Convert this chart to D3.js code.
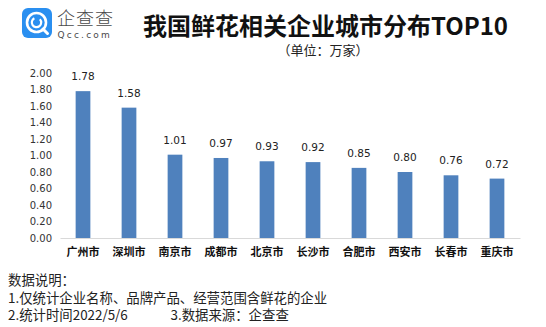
<!DOCTYPE html>
<html>
<head>
<meta charset="utf-8">
<script src="https://cdn.jsdelivr.net/npm/d3@7"></script>
<style>
html,body{margin:0;padding:0;background:#fff;}
svg{display:block;}
</style>
</head>
<body>
<svg id="chart" width="546" height="327"></svg>
<script>
const categories = ["广州市","深圳市","南京市","成都市","北京市","长沙市","合肥市","西安市","长春市","重庆市"];
const values = [1.78,1.58,1.01,0.97,0.93,0.92,0.85,0.80,0.76,0.72];
const valueLabels = ["1.78","1.58","1.01","0.97","0.93","0.92","0.85","0.80","0.76","0.72"];
const yTicks = [0,0.2,0.4,0.6,0.8,1.0,1.2,1.4,1.6,1.8,2.0];
const title = "我国鲜花相关企业城市分布TOP10";
const subtitle = "（单位：万家）";
const notes = ["数据说明：","1.仅统计企业名称、品牌产品、经营范围含鲜花的企业","2.统计时间2022/5/6"];
const note3b = "3.数据来源：企查查";

const svg = d3.select("#chart");
const cjk = "'Noto Sans CJK SC','Noto Sans',sans-serif";

// logo
const logo = svg.append("g");
logo.append("rect").attr("x",22).attr("y",8).attr("width",30).attr("height",30).attr("rx",6).attr("fill","#2a8ff0");
logo.append("circle").attr("cx",36.5).attr("cy",22.5).attr("r",9.5).attr("fill","none").attr("stroke","#fff").attr("stroke-width",2.6);
logo.append("path").attr("d","M43 29 L47.5 33.5").attr("stroke","#fff").attr("stroke-width",3).attr("stroke-linecap","round");
logo.append("path").attr("d", d3.arc()({innerRadius:3.6,outerRadius:5.8,startAngle:Math.PI*0.25,endAngle:Math.PI*1.85})).attr("transform","translate(36.5,22.5)").attr("fill","#fff");
logo.append("text").attr("x",57).attr("y",25).attr("font-family",cjk).attr("font-size",18).attr("font-weight",300).attr("letter-spacing",1).attr("fill","#4a4a4a").text("企查查");
logo.append("text").attr("x",57.5).attr("y",38).attr("font-family","'DejaVu Sans',sans-serif").attr("font-size",9).attr("letter-spacing",2.2).attr("fill","#4a4a4a").text("Qcc.com");

// titles
svg.append("text").attr("x",325.5).attr("y",35).attr("text-anchor","middle").attr("font-family",cjk).attr("font-size",24).attr("font-weight",700).attr("fill","#111").text(title);
svg.append("text").attr("x",323).attr("y",54.5).attr("text-anchor","middle").attr("font-family",cjk).attr("font-size",13).attr("fill","#222").text(subtitle);

// scales
const x = d3.scaleBand().domain(categories).range([60,520]).paddingInner(0.68).paddingOuter(0.34);
const y = d3.scaleLinear().domain([0,2]).range([238,73]);

// y axis labels
const yAxis = svg.append("g").attr("transform","translate(60,0)")
  .call(d3.axisLeft(y).tickValues(yTicks).tickFormat(d3.format(".2f")).tickSize(0).tickPadding(8));
yAxis.select(".domain").remove();
yAxis.selectAll("text").attr("font-family","'DejaVu Sans',sans-serif").attr("font-size",10).attr("fill","#333");

// bars
svg.append("g").selectAll("rect").data(values).join("rect")
  .attr("x",(d,i)=>x(categories[i])).attr("width",x.bandwidth())
  .attr("y",d=>y(d)).attr("height",d=>y(0)-y(d)).attr("fill","#4f81bd");

// value labels
svg.append("g").selectAll("text").data(values).join("text")
  .attr("x",(d,i)=>x(categories[i])+x.bandwidth()/2).attr("y",d=>y(d)-11)
  .attr("text-anchor","middle").attr("font-family","'DejaVu Sans',sans-serif").attr("font-size",10.5).attr("fill","#222")
  .text((d,i)=>valueLabels[i]);

// x axis
const xAxis = svg.append("g").attr("transform","translate(0,238)")
  .call(d3.axisBottom(x).tickSize(0).tickPadding(10));
xAxis.select(".domain").attr("stroke","#d9d9d9").attr("stroke-width",1);
xAxis.selectAll("text").attr("font-family",cjk).attr("font-size",11).attr("font-weight",700).attr("fill","#111");

// notes
const ny = [284.5,302.5,320];
notes.forEach((t,i)=>{
  svg.append("text").attr("x",8).attr("y",ny[i]).attr("font-family",cjk).attr("font-size",13.4).attr("fill","#222").text(t);
});
svg.append("text").attr("x",170.5).attr("y",ny[2]).attr("font-family",cjk).attr("font-size",13.4).attr("fill","#222").text(note3b);
</script>
</body>
</html>
